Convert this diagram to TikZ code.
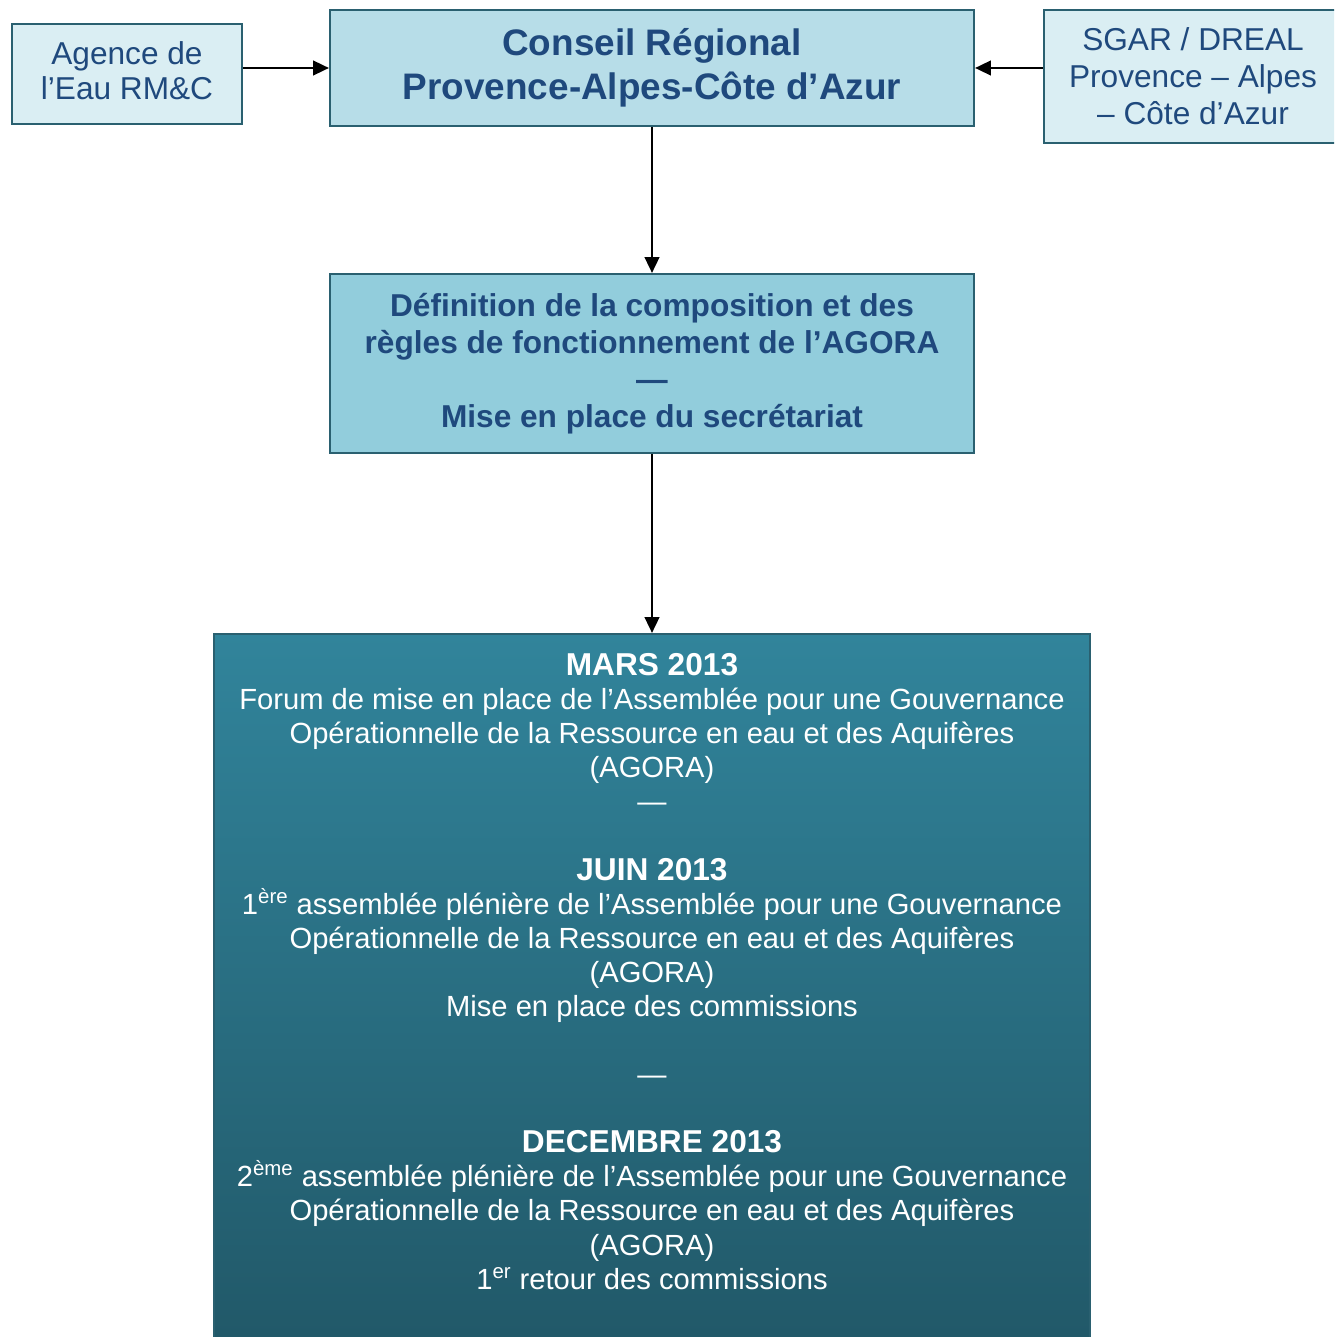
\documentclass[tikz,border=0pt]{standalone}
\usepackage{fontspec}
\setmainfont{Liberation Sans}
\usetikzlibrary{arrows.meta}
\definecolor{eaupale}{HTML}{DAEEF3}
\definecolor{eauclair}{HTML}{B7DDE8}
\definecolor{eaumoyen}{HTML}{92CDDC}
\definecolor{eauhaut}{HTML}{31849B}
\definecolor{eaubas}{HTML}{215868}
\definecolor{bordure}{HTML}{2A6070}
\definecolor{texte}{HTML}{1F497D}
\tikzset{
	cadre/.style={draw=bordure, line width=1.3pt, inner sep=0pt, align=center, text=texte},
	fleche/.style={-{Triangle[length=9pt,width=8.5pt]}, line width=0.8pt},
}

\begin{document}
\begin{tikzpicture}
			%%%%% START %%%%%
			\useasboundingbox (0,0) rectangle (26.68,-26.74);
			\clip (0,0) rectangle (26.68,-26.74);
			
			\node[cadre, fill=eaupale, minimum width=4.6cm, minimum height=2cm, font=\fontsize{18}{20.4}\selectfont] (agence) at (2.54,-1.48) {Agence de\\l’Eau RM\&C\rule[-4pt]{0pt}{1pt}};
			
			\node[cadre, fill=eauclair, minimum width=12.88cm, minimum height=2.32cm, font=\bfseries\fontsize{21}{25}\selectfont] (conseil) at (13.04,-1.36) {Conseil Régional\\Provence-Alpes-Côte d’Azur};
			
			\node[cadre, fill=eaupale, minimum width=5.96cm, minimum height=2.66cm, font=\fontsize{18}{21}\selectfont] (sgar) at (23.86,-1.53) {SGAR / DREAL\\Provence – Alpes\\– Côte d’Azur};
			
			\node[cadre, fill=eaumoyen, minimum width=12.88cm, minimum height=3.58cm, font=\bfseries\fontsize{18}{21}\selectfont] (definition) at (13.04,-7.27) {Définition de la composition et des\\règles de fonctionnement de l’AGORA\\—\\Mise en place du secrétariat};
			
			\node[draw=bordure, line width=1.3pt, top color=eauhaut, bottom color=eaubas, minimum width=17.52cm, minimum height=14.32cm] (calendrier) at (13.04,-19.84) {};
			
			\node[anchor=north, inner sep=0pt, text=white, align=center, font=\fontsize{16.6}{19.4}\selectfont] (dates) at (13.04,-13.06) {%
				{\bfseries\fontsize{18}{19.4}\selectfont MARS 2013}\\
				Forum de mise en place de l’Assemblée pour une Gouvernance\\
				Opérationnelle de la Ressource en eau et des Aquifères\\
				(AGORA)\\
				—\\[19.4pt]
				{\bfseries\fontsize{18}{19.4}\selectfont JUIN 2013}\\
				1\textsuperscript{ère} assemblée plénière de l’Assemblée pour une Gouvernance\\
				Opérationnelle de la Ressource en eau et des Aquifères\\
				(AGORA)\\
				Mise en place des commissions\\[19.4pt]
				—\\[19.4pt]
				{\bfseries\fontsize{18}{19.4}\selectfont DECEMBRE 2013}\\
				2\textsuperscript{ème} assemblée plénière de l’Assemblée pour une Gouvernance\\
				Opérationnelle de la Ressource en eau et des Aquifères\\
				(AGORA)\\
				1\textsuperscript{er} retour des commissions};
			
			\draw[fleche] (agence.east |- conseil.west) -- (conseil.west);
			\draw[fleche] (sgar.west |- conseil.east) -- (conseil.east);
			\draw[fleche] (conseil.south) -- (definition.north);
			\draw[fleche] (definition.south) -- (calendrier.north);
			%%%%% END %%%%%
\end{tikzpicture}
\end{document}
